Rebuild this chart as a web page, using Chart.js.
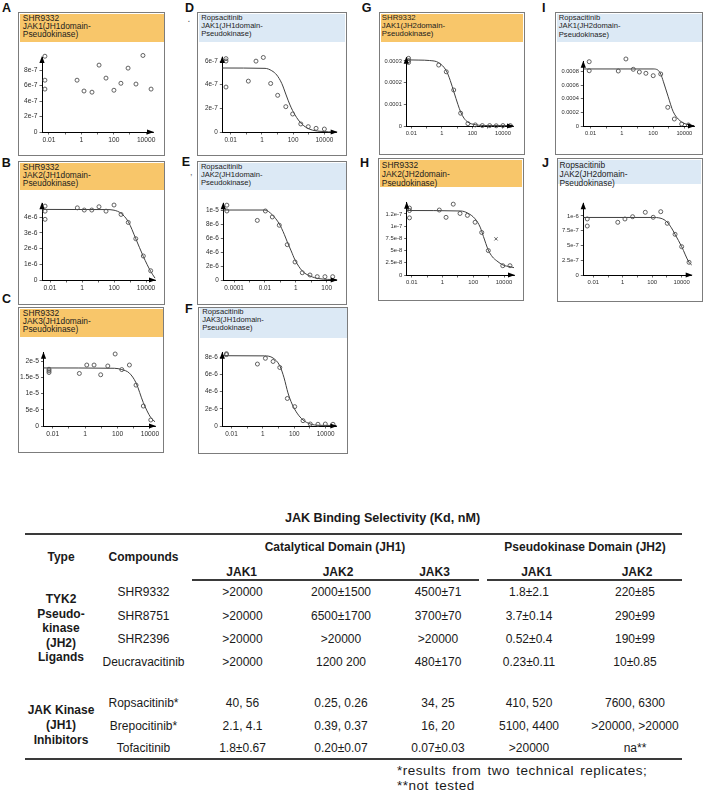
<!DOCTYPE html>
<html><head><meta charset="utf-8">
<script src="https://cdn.jsdelivr.net/npm/chart.js@4.4.1/dist/chart.umd.min.js"></script>
<style>
html,body{margin:0;padding:0;background:#fff;}
body{width:704px;height:791px;position:relative;overflow:hidden;font-family:"Liberation Sans",Arial,Helvetica,sans-serif;}
.box{position:absolute;box-sizing:border-box;border:1.6px solid #7c7c7c;background:#fff;}
.hdr{position:absolute;left:0.5px;right:0.5px;top:0.5px;box-sizing:border-box;color:#1c1c1c;white-space:nowrap;}
.plab{position:absolute;font-weight:bold;font-size:12.5px;line-height:12.5px;color:#111;}
.t{position:absolute;white-space:nowrap;transform:translate(-50%,-50%);font-size:12px;line-height:12px;color:#1a1a1a;}
.tl{position:absolute;white-space:nowrap;transform:translate(0,-50%);font-size:13.5px;line-height:13.5px;letter-spacing:0.5px;word-spacing:2px;color:#1a1a1a;}
.b{font-weight:bold;}
.rule{position:absolute;background:#3a3a3a;}
canvas{position:absolute;}
</style></head><body>
<script>
// ================= DATA =================
// x tick labels (log axis)
const xTickValsMain = [0.01, 1, 100, 10000];
const xTickTextMain = ['0.01', '1', '100', '10000'];
const xTickValsE = [0.0001, 0.01, 1, 100];
const xTickTextE = ['0.0001', '0.01', '1', '100'];

// Panel A: SHR9332 JAK1 (JH1)
const A_title = ['SHR9332', 'JAK1(JH1domain-', 'Pseudokinase)'];
const A_conc = [0.0056, 0.0056, 0.0056, 0.54, 1.45, 4.5, 12.3, 33, 102, 275, 760, 2340, 6300, 20000];
const A_resp = [9.8e-7, 6.7e-7, 5.55e-7, 6.7e-7, 5.3e-7, 5.15e-7, 8.65e-7, 6.97e-7, 5.4e-7, 6.3e-7, 8.26e-7, 6.2e-7, 9.9e-7, 5.55e-7];
const A_xRange = [0.0037, 26300];
const A_yRange = [0, 9.7e-7];
const A_yTicks = [0, 2e-7, 4e-7, 6e-7, 8e-7];
const A_yLabels = ['0', '2e-7', '4e-7', '6e-7', '8e-7'];

// Panel B: SHR9332 JAK2 (JH1)
const B_title = ['SHR9332', 'JAK2(JH1domain-', 'Pseudokinase)'];
const B_conc = [0.0049, 0.0049, 0.0049, 0.51, 1.38, 4.07, 11.5, 31.6, 100, 275, 776, 2290, 6760, 19500];
const B_resp = [4.71e-6, 4.39e-6, 3.87e-6, 4.6e-6, 4.46e-6, 4.46e-6, 4.67e-6, 4.39e-6, 4.78e-6, 4.18e-6, 3.67e-6, 2.63e-6, 1.53e-6, 0.59e-6];
const B_fitConc = [0.0032, 31.6, 100, 275, 776, 2290, 6760, 19500, 36300];
const B_fitResp = [4.5e-6, 4.49e-6, 4.45e-6, 4.25e-6, 3.72e-6, 2.63e-6, 1.5e-6, 0.55e-6, 0.12e-6];
const B_xRange = [0.00316, 36300];
const B_yRange = [0, 4.89e-6];
const B_yTicks = [0, 1e-6, 2e-6, 3e-6, 4e-6];
const B_yLabels = ['0', '1e-6', '2e-6', '3e-6', '4e-6'];

// Panel C: SHR9332 JAK3 (JH1)
const C_title = ['SHR9332', 'JAK3(JH1domain-', 'Pseudokinase)'];
const C_conc = [0.0059, 0.0059, 0.0059, 0.44, 1.26, 3.55, 9.1, 25, 71, 182, 537, 1380, 3890, 11200];
const C_resp = [1.75e-5, 1.7e-5, 1.65e-5, 1.62e-5, 1.88e-5, 1.88e-5, 1.58e-5, 1.85e-5, 2.22e-5, 1.74e-5, 1.88e-5, 1.26e-5, 6.15e-6, 1.85e-6];
const C_fitConc = [0.0027, 63, 182, 537, 1380, 3890, 11200, 20400];
const C_fitResp = [1.79e-5, 1.78e-5, 1.74e-5, 1.63e-5, 1.33e-5, 7.2e-6, 2.6e-6, 1.3e-6];
const C_xRange = [0.0027, 20400];
const C_yRange = [0, 2.26e-5];
const C_yTicks = [0, 5e-6, 1e-5, 1.5e-5, 2e-5];
const C_yLabels = ['0', '5e-6', '1e-5', '1.5e-5', '2e-5'];

// Panel D: Ropsacitinib JAK1 (JH1)
const D_title = ['Ropsacitinib', 'JAK1(JH1domain-', 'Pseudokinase)'];
const D_conc = [0.005, 0.005, 0.005, 0.135, 0.417, 1.23, 3.63, 10.2, 33.9, 93, 309, 933, 2950, 10000];
const D_resp = [6.2e-7, 6.0e-7, 3.8e-7, 4.3e-7, 5.99e-7, 6.3e-7, 4.1e-7, 3.1e-7, 2.14e-7, 1.52e-7, 0.68e-7, 0.45e-7, 0.31e-7, 0.25e-7];
const D_fitConc = [0.0029, 1.58, 4.27, 8.9, 18.6, 35.5, 63, 132, 355, 1200, 5250, 61700];
const D_fitResp = [5.41e-7, 5.38e-7, 5.18e-7, 4.82e-7, 4.11e-7, 3.13e-7, 2.28e-7, 1.44e-7, 0.68e-7, 0.23e-7, 0.06e-7, 0];
const D_xRange = [0.0029, 61700];
const D_yRange = [0, 6.34e-7];
const D_yTicks = [0, 2e-7, 4e-7, 6e-7];
const D_yLabels = ['0', '2e-7', '4e-7', '6e-7'];

// Panel E: Ropsacitinib JAK2 (JH1)
const E_title = ['Ropsacitinib', 'JAK2(JH1domain-', 'Pseudokinase)'];
const E_conc = [3.4e-5, 3.4e-5, 0.0032, 0.0107, 0.030, 0.085, 0.28, 0.89, 2.63, 8.3, 24.5, 77.6, 245];
const E_resp = [1.08e-5, 9.96e-6, 8.6e-6, 9.96e-6, 9.1e-6, 7.9e-6, 5.1e-6, 2.6e-6, 1.05e-6, 0.72e-6, 0.48e-6, 0.48e-6, 0.48e-6];
const E_fitConc = [2.0e-5, 0.01, 0.030, 0.085, 0.178, 0.28, 0.5, 0.89, 2.63, 8.3, 31.6, 447];
const E_fitResp = [1.01e-5, 1.01e-5, 9.4e-6, 8.1e-6, 6.6e-6, 5.5e-6, 4.2e-6, 2.9e-6, 1.3e-6, 0.58e-6, 0.2e-6, 0.05e-6];
const E_xRange = [2.0e-5, 447];
const E_yRange = [0, 1.107e-5];
const E_yTicks = [0, 2e-6, 4e-6, 6e-6, 8e-6, 1e-5];
const E_yLabels = ['0', '2e-6', '4e-6', '6e-6', '8e-6', '1e-5'];

// Panel F: Ropsacitinib JAK3 (JH1)
const F_title = ['Ropsacitinib', 'JAK3(JH1domain-', 'Pseudokinase)'];
const F_conc = [0.0048, 0.0048, 0.45, 1.45, 4.47, 12, 36.3, 107, 363, 1050, 3240, 9550, 29500];
const F_resp = [8.4e-6, 8.3e-6, 7.2e-6, 7.87e-6, 7.5e-6, 6.8e-6, 3.2e-6, 2.25e-6, 0.62e-6, 0.23e-6, 0.2e-6, 0.23e-6, 0.2e-6];
const F_fitConc = [0.0026, 1.26, 4.47, 12, 22.4, 39.8, 72.4, 151, 363, 1000, 3980, 47900];
const F_fitResp = [8.17e-6, 8.15e-6, 7.9e-6, 7.0e-6, 5.6e-6, 3.85e-6, 2.56e-6, 1.5e-6, 0.7e-6, 0.25e-6, 0.08e-6, 0.06e-6];
const F_xRange = [0.0026, 47900];
const F_yRange = [0, 8.52e-6];
const F_yTicks = [0, 2e-6, 4e-6, 6e-6, 8e-6];
const F_yLabels = ['0', '2e-6', '4e-6', '6e-6', '8e-6'];

// Panel G: SHR9332 JAK1 (JH2)
const G_title = ['SHR9332', 'JAK1(JH2domain-', 'Pseudokinase)'];
const G_conc = [0.0066, 0.0066, 0.0066, 0.62, 1.95, 6.0, 17, 51, 155, 447, 1350, 3630, 10000, 30200];
const G_resp = [3.12e-4, 3.02e-4, 2.93e-4, 2.81e-4, 2.5e-4, 1.66e-4, 0.59e-4, 0.11e-4, 0.05e-4, 0.02e-4, 0.02e-4, 0.01e-4, 0.02e-4, 0.02e-4];
const G_fitConc = [0.0047, 0.0316, 0.158, 0.62, 1.95, 3.55, 6.3, 11.2, 17, 28.2, 50, 155, 1000, 45700];
const G_fitResp = [3.05e-4, 3.04e-4, 3.02e-4, 2.92e-4, 2.55e-4, 2.1e-4, 1.55e-4, 1.0e-4, 0.65e-4, 0.36e-4, 0.18e-4, 0.06e-4, 0.02e-4, 0.02e-4];
const G_xRange = [0.0047, 45700];
const G_yRange = [0, 3.15e-4];
const G_yTicks = [0, 1e-4, 2e-4, 3e-4];
const G_yLabels = ['0', '0.0001', '0.0002', '0.0003'];

// Panel H: SHR9332 JAK2 (JH2)
const H_title = ['SHR9332', 'JAK2(JH2domain-', 'Pseudokinase)'];
const H_conc = [0.0071, 0.0071, 0.0071, 0.62, 1.7, 5.0, 13.8, 41.7, 132, 355, 955, 8300, 24500];
const H_resp = [1.37e-7, 1.32e-7, 1.17e-7, 1.33e-7, 1.18e-7, 1.45e-7, 1.26e-7, 1.22e-7, 1.08e-7, 0.87e-7, 0.5e-7, 0.19e-7, 0.19e-7];
const H_outConc = [3020];
const H_outResp = [0.74e-7];
const H_fitConc = [0.0047, 15.8, 41.7, 132, 282, 457, 955, 1780, 3390, 9120, 25100, 44700];
const H_fitResp = [1.32e-7, 1.31e-7, 1.27e-7, 1.15e-7, 0.98e-7, 0.79e-7, 0.51e-7, 0.37e-7, 0.29e-7, 0.2e-7, 0.17e-7, 0.15e-7];
const H_xRange = [0.0047, 44700];
const H_yRange = [0, 1.48e-7];
const H_yTicks = [0, 2.5e-8, 5e-8, 7.5e-8, 1e-7, 1.25e-7];
const H_yLabels = ['0', '2.5e-8', '5e-8', '7.5e-8', '1e-7', '1.2e-7'];

// Panel I: Ropsacitinib JAK1 (JH2)
const I_title = ['Ropsacitinib', 'JAK1(JH2domain-', 'Pseudokinase)'];
const I_conc = [0.0081, 0.0081, 0.59, 1.82, 5.4, 13.2, 34.7, 102, 309, 871, 2290, 6760, 18200];
const I_resp = [9.47e-4, 8.14e-4, 8.1e-4, 9.87e-4, 8.35e-4, 7.95e-4, 7.76e-4, 7.41e-4, 7.66e-4, 2.75e-4, 1.03e-4, 0.29e-4, 0.15e-4];
const I_fitConc = [0.0034, 100, 200, 316, 447, 933, 1950, 5250, 14100, 41700];
const I_fitResp = [8.4e-4, 8.4e-4, 8.25e-4, 7.6e-4, 6.6e-4, 4.3e-4, 2.1e-4, 0.78e-4, 0.25e-4, 0.05e-4];
const I_xRange = [0.0034, 41700];
const I_yRange = [0, 9.47e-4];
const I_yTicks = [0, 2e-4, 4e-4, 6e-4, 8e-4];
const I_yLabels = ['0', '0.0002', '0.0004', '0.0006', '0.0008'];

// Panel J: Ropsacitinib JAK2 (JH2)
const J_title = ['Ropsacitinib', 'JAK2(JH2domain-', 'Pseudokinase)'];
const J_conc = [0.0039, 0.0039, 0.46, 1.41, 4.68, 33.9, 117, 380, 1050, 3550, 10000, 31600];
const J_resp = [0.95e-6, 0.83e-6, 0.893e-6, 0.949e-6, 0.988e-6, 1.063e-6, 0.978e-6, 1.073e-6, 0.876e-6, 0.69e-6, 0.48e-6, 0.215e-6];
const J_fitConc = [0.0021, 100, 398, 1000, 2000, 3550, 10000, 31600, 47900];
const J_fitResp = [0.975e-6, 0.975e-6, 0.96e-6, 0.9e-6, 0.8e-6, 0.69e-6, 0.48e-6, 0.215e-6, 0.17e-6];
const J_xRange = [0.0021, 47900];
const J_yRange = [0, 1.215e-6];
const J_yTicks = [0, 2.5e-7, 5e-7, 7.5e-7, 1e-6];
const J_yLabels = ['0', '2.5e-7', '5e-7', '7.5e-7', '1e-6'];

// Table
const tableTitle = 'JAK Binding Selectivity (Kd, nM)';
const headType = 'Type';
const headCompounds = 'Compounds';
const groupHeads = ['Catalytical Domain (JH1)', 'Pseudokinase Domain (JH2)'];
const subHeads = ['JAK1', 'JAK2', 'JAK3', 'JAK1', 'JAK2'];
const typeGroup1 = ['TYK2', 'Pseudo-', 'kinase', '(JH2)', 'Ligands'];
const typeGroup2 = ['JAK Kinase', '(JH1)', 'Inhibitors'];
const compounds = ['SHR9332', 'SHR8751', 'SHR2396', 'Deucravacitinib', 'Ropsacitinib*', 'Brepocitinib*', 'Tofacitinib'];
const jh1Jak1 = ['>20000', '>20000', '>20000', '>20000', '40, 56', '2.1, 4.1', '1.8±0.67'];
const jh1Jak2 = ['2000±1500', '6500±1700', '>20000', '1200 200', '0.25, 0.26', '0.39, 0.37', '0.20±0.07'];
const jh1Jak3 = ['4500±71', '3700±70', '>20000', '480±170', '34, 25', '16, 20', '0.07±0.03'];
const jh2Jak1 = ['1.8±2.1', '3.7±0.14', '0.52±0.4', '0.23±0.11', '410, 520', '5100, 4400', '>20000'];
const jh2Jak2 = ['220±85', '290±99', '190±99', '10±0.85', '7600, 6300', '>20000, >20000', 'na**'];
const footnotes = ['*results from two technical replicates;', '**not tested'];

// ================= LAYOUT / STYLE =================
const ORANGE = '#F8C66A';
const BLUE = '#DCE9F5';
const LAYOUT = {
  A: {L:18, T:12, R:165, B:155.7, hdrB:42, yAx:42, top:57, axY:132, xEnd:153, lab:[2,3.3], tf:8.4, lh:8, tx:5.3, ty:3, tick:6.7},
  B: {L:18, T:161, R:165, B:305, hdrB:190, yAx:42, top:203.3, axY:280, xEnd:155, lab:[1.7,158.3], tf:8.4, lh:8, tx:5.3, ty:3.2, tick:6.7},
  C: {L:18, T:307.3, R:164, B:452.7, hdrB:337.3, yAx:43.5, top:352.7, axY:426, xEnd:155, lab:[2,295], tf:8.4, lh:8, tx:5.3, ty:3.2, tick:6.7},
  D: {L:197.3, T:12, R:347, B:155.7, hdrB:42, yAx:222.3, top:57, axY:132, xEnd:336.7, lab:[185,3.3], tf:7.6, lh:8, tx:4.4, ty:3, tick:6.4},
  E: {L:197, T:161, R:347, B:305, hdrB:190, yAx:223.3, top:203.3, axY:280, xEnd:336.7, lab:[181.7,157.5], tf:7.6, lh:8, tx:4.4, ty:3.2, tick:6.4},
  F: {L:198.3, T:306.7, R:348.3, B:454, hdrB:338.3, yAx:222.3, top:352.7, axY:426, xEnd:336.3, lab:[185,305], tf:7.6, lh:8, tx:4.4, ty:3.2, tick:6.4},
  G: {L:379.3, T:12, R:525, B:155, hdrB:42, yAx:406.3, top:57.7, axY:126, xEnd:513, lab:[361.7,4], tf:7.8, lh:8.2, tx:3, ty:3, tick:5.7},
  H: {L:378.3, T:158.3, R:524, B:301, hdrB:188, yAx:406.7, top:202.7, axY:275, xEnd:514, lab:[360,159], tf:8.4, lh:9, tx:4, ty:4.4, tick:5.9},
  I: {L:555, T:12, R:703, B:155, hdrB:42, yAx:583.3, top:61.7, axY:126, xEnd:694, lab:[542,3.5], tf:7.6, lh:8.6, tx:4.3, ty:3, tick:5.7},
  J: {L:556.7, T:158.3, R:703, B:301.7, hdrB:185, yAx:583.3, top:203.3, axY:275, xEnd:691.7, lab:[542,159], tf:8.4, lh:9, tx:3.3, ty:4.4, tick:5.9}
};

const PANELS = [
  {key:'A', color:ORANGE, title:A_title, conc:A_conc, resp:A_resp, fitConc:null, fitResp:null, xRange:A_xRange, yRange:A_yRange, yTicks:A_yTicks, yLabels:A_yLabels, xv:xTickValsMain, xt:xTickTextMain},
  {key:'B', color:ORANGE, title:B_title, conc:B_conc, resp:B_resp, fitConc:B_fitConc, fitResp:B_fitResp, xRange:B_xRange, yRange:B_yRange, yTicks:B_yTicks, yLabels:B_yLabels, xv:xTickValsMain, xt:xTickTextMain},
  {key:'C', color:ORANGE, title:C_title, conc:C_conc, resp:C_resp, fitConc:C_fitConc, fitResp:C_fitResp, xRange:C_xRange, yRange:C_yRange, yTicks:C_yTicks, yLabels:C_yLabels, xv:xTickValsMain, xt:xTickTextMain},
  {key:'D', color:BLUE, title:D_title, conc:D_conc, resp:D_resp, fitConc:D_fitConc, fitResp:D_fitResp, xRange:D_xRange, yRange:D_yRange, yTicks:D_yTicks, yLabels:D_yLabels, xv:xTickValsMain, xt:xTickTextMain},
  {key:'E', color:BLUE, title:E_title, conc:E_conc, resp:E_resp, fitConc:E_fitConc, fitResp:E_fitResp, xRange:E_xRange, yRange:E_yRange, yTicks:E_yTicks, yLabels:E_yLabels, xv:xTickValsE, xt:xTickTextE},
  {key:'F', color:BLUE, title:F_title, conc:F_conc, resp:F_resp, fitConc:F_fitConc, fitResp:F_fitResp, xRange:F_xRange, yRange:F_yRange, yTicks:F_yTicks, yLabels:F_yLabels, xv:xTickValsMain, xt:xTickTextMain},
  {key:'G', color:ORANGE, title:G_title, conc:G_conc, resp:G_resp, fitConc:G_fitConc, fitResp:G_fitResp, xRange:G_xRange, yRange:G_yRange, yTicks:G_yTicks, yLabels:G_yLabels, xv:xTickValsMain, xt:xTickTextMain},
  {key:'H', color:ORANGE, title:H_title, conc:H_conc, resp:H_resp, fitConc:H_fitConc, fitResp:H_fitResp, outConc:H_outConc, outResp:H_outResp, xRange:H_xRange, yRange:H_yRange, yTicks:H_yTicks, yLabels:H_yLabels, xv:xTickValsMain, xt:xTickTextMain},
  {key:'I', color:BLUE, title:I_title, conc:I_conc, resp:I_resp, fitConc:I_fitConc, fitResp:I_fitResp, xRange:I_xRange, yRange:I_yRange, yTicks:I_yTicks, yLabels:I_yLabels, xv:xTickValsMain, xt:xTickTextMain},
  {key:'J', color:BLUE, title:J_title, conc:J_conc, resp:J_resp, fitConc:J_fitConc, fitResp:J_fitResp, xRange:J_xRange, yRange:J_yRange, yTicks:J_yTicks, yLabels:J_yLabels, xv:xTickValsMain, xt:xTickTextMain}
];

const FONT = '"Liberation Sans", Arial, sans-serif';

function el(tag, cls, css, text) {
  const e = document.createElement(tag);
  if (cls) e.className = cls;
  if (css) Object.assign(e.style, css);
  if (text !== undefined) e.textContent = text;
  document.body.appendChild(e);
  return e;
}

const axisArrows = {
  id: 'axisArrows',
  afterDraw(chart) {
    const a = chart.chartArea, c = chart.ctx;
    c.save();
    c.fillStyle = '#000';
    c.beginPath();
    c.moveTo(a.left, a.top - 1);
    c.lineTo(a.left - 2.6, a.top + 6);
    c.lineTo(a.left + 2.6, a.top + 6);
    c.closePath(); c.fill();
    c.beginPath();
    c.moveTo(a.right + 1, a.bottom);
    c.lineTo(a.right - 6, a.bottom - 2.6);
    c.lineTo(a.right - 6, a.bottom + 2.6);
    c.closePath(); c.fill();
    c.restore();
  }
};

function decadeTicks(min, max) {
  const out = [];
  for (let e = Math.ceil(Math.log10(min) - 1e-9); e <= Math.floor(Math.log10(max) + 1e-9); e++) out.push({value: Math.pow(10, e)});
  return out;
}

function buildPanel(p) {
  const g = LAYOUT[p.key];
  el('div', 'plab', {left: g.lab[0] + 'px', top: (g.lab[1] - 1.6) + 'px'}, p.key);
  const box = el('div', 'box', {left: g.L + 'px', top: g.T + 'px', width: (g.R - g.L) + 'px', height: (g.B - g.T) + 'px'});
  const hdrH = g.hdrB - g.T - 2;
  const padTop = g.ty - 2 - (g.lh - g.tf * 1.117) / 2 - g.tf * 0.189;
  const hdr = document.createElement('div');
  hdr.className = 'hdr';
  Object.assign(hdr.style, {height: hdrH + 'px', background: p.color, fontSize: g.tf + 'px', lineHeight: g.lh + 'px', paddingTop: padTop + 'px', paddingLeft: (g.tx - 2) + 'px'});
  p.title.forEach(s => { const d = document.createElement('div'); d.textContent = s; hdr.appendChild(d); });
  box.appendChild(hdr);

  const cx0 = Math.round(g.L + 1.5), cy0 = Math.round(g.hdrB);
  const W = Math.round(g.R - 1.5) - cx0, H = Math.round(g.B - 1.5) - cy0;
  const cv = document.createElement('canvas');
  cv.width = W; cv.height = H;
  Object.assign(cv.style, {left: cx0 + 'px', top: cy0 + 'px', width: W + 'px', height: H + 'px'});
  document.body.appendChild(cv);
  const yW = g.yAx - cx0, padR = cx0 + W - g.xEnd, padT = g.top - cy0, xH = cy0 + H - g.axY;

  const datasets = [];
  datasets.push({
    data: p.conc.map((x, i) => ({x, y: p.resp[i]})),
    showLine: false, pointRadius: 2, pointHoverRadius: 2, pointBorderWidth: 0.9,
    pointBorderColor: '#505050', pointBackgroundColor: 'rgba(255,255,255,0)', clip: false, order: 1
  });
  if (p.outConc) {
    datasets.push({
      data: p.outConc.map((x, i) => ({x, y: p.outResp[i]})),
      showLine: false, pointStyle: 'crossRot', pointRadius: 2.3, pointBorderWidth: 0.9,
      pointBorderColor: '#505050', clip: false, order: 1
    });
  }
  if (p.fitConc) {
    datasets.push({
      data: p.fitConc.map((x, i) => ({x, y: p.fitResp[i]})),
      showLine: true, borderColor: '#3f3f3f', borderWidth: 1, pointRadius: 0,
      cubicInterpolationMode: 'monotone', clip: false, order: 2
    });
  }
  const gridCfg = {drawOnChartArea: false, drawTicks: true, tickLength: 2.5, color: '#222', lineWidth: 0.7};
  const borderCfg = {display: true, color: '#000', width: 1};
  const tickFont = {family: FONT, size: g.tick};
  new Chart(cv, {
    type: 'scatter',
    data: {datasets},
    options: {
      responsive: false, animation: false, events: [],
      layout: {padding: {left: 0, right: padR, top: padT, bottom: 0}},
      plugins: {legend: {display: false}, tooltip: {enabled: false}},
      scales: {
        x: {
          type: 'logarithmic', position: 'bottom', min: p.xRange[0], max: p.xRange[1], bounds: 'data',
          afterFit: s => { s.height = xH; s.paddingLeft = 0; s.paddingRight = 0; },
          afterBuildTicks: s => { s.ticks = decadeTicks(p.xRange[0], p.xRange[1]); },
          grid: gridCfg, border: borderCfg,
          ticks: {autoSkip: false, maxRotation: 0, minRotation: 0, padding: 1.5, color: '#2e2e2e', font: tickFont,
            callback: (v) => { const k = p.xv.findIndex(t => Math.abs(t - v) / t < 1e-6); return k >= 0 ? p.xt[k] : ''; }}
        },
        y: {
          type: 'linear', position: 'left', min: p.yRange[0], max: p.yRange[1], bounds: 'data',
          afterFit: s => { s.width = yW; s.paddingTop = 0; s.paddingBottom = 0; },
          afterBuildTicks: s => { s.ticks = p.yTicks.map(v => ({value: v})); },
          grid: gridCfg, border: borderCfg,
          ticks: {autoSkip: false, padding: 2, color: '#2e2e2e', font: tickFont,
            callback: (v, i) => p.yLabels[i]}
        }
      }
    },
    plugins: [axisArrows]
  });
}

PANELS.forEach(buildPanel);
el('div', null, {position: 'absolute', left: '187.5px', top: '13px', fontSize: '10px', color: '#555'}, '.');
el('div', null, {position: 'absolute', left: '190px', top: '167px', fontSize: '9px', color: '#666'}, ',');

// ================= TABLE =================
const TBL = {
  title: [382.5, 518.3],
  colX: [143.5, 242.5, 341, 438, 529, 635],
  rowY: [591.7, 615.7, 639, 662.3, 703.3, 725.7, 748.3],
  typeX: 61,
  type1Y: [599, 614, 628.3, 642.7, 657.3],
  type2Y: [710, 725, 740],
  headY: 557.2, grpY: 547.3, subY: 571.7,
  grpX: [335, 585],
  subX: [241.7, 338, 434.5, 536.5, 637],
  rules: [[25, 533.3, 657, 2], [191.7, 579.4, 287, 1.3], [487, 579.4, 195, 1.3], [25, 758, 657, 2]],
  foot: [397, 771, 785.5]
};
function t(x, y, s, bold, size) {
  const e = el('div', 't' + (bold ? ' b' : ''), {left: x + 'px', top: y + 'px'}, s);
  if (size) { e.style.fontSize = size + 'px'; e.style.lineHeight = size + 'px'; }
  return e;
}
t(TBL.title[0], TBL.title[1], tableTitle, true, 12.6);
TBL.rules.forEach(r => el('div', 'rule', {left: r[0] + 'px', top: r[1] + 'px', width: r[2] + 'px', height: r[3] + 'px'}));
t(TBL.typeX, TBL.headY, headType, true);
t(TBL.colX[0], TBL.headY, headCompounds, true);
groupHeads.forEach((s, i) => t(TBL.grpX[i], TBL.grpY, s, true));
subHeads.forEach((s, i) => t(TBL.subX[i], TBL.subY, s, true));
typeGroup1.forEach((s, i) => t(TBL.typeX, TBL.type1Y[i], s, true));
typeGroup2.forEach((s, i) => t(TBL.typeX, TBL.type2Y[i], s, true));
const cols = [compounds, jh1Jak1, jh1Jak2, jh1Jak3, jh2Jak1, jh2Jak2];
cols.forEach((col, c) => col.forEach((s, r) => t(TBL.colX[c], TBL.rowY[r], s, false)));
footnotes.forEach((s, i) => el('div', 'tl', {left: TBL.foot[0] + 'px', top: TBL.foot[1 + i] + 'px'}, s));
</script>
</body></html>
